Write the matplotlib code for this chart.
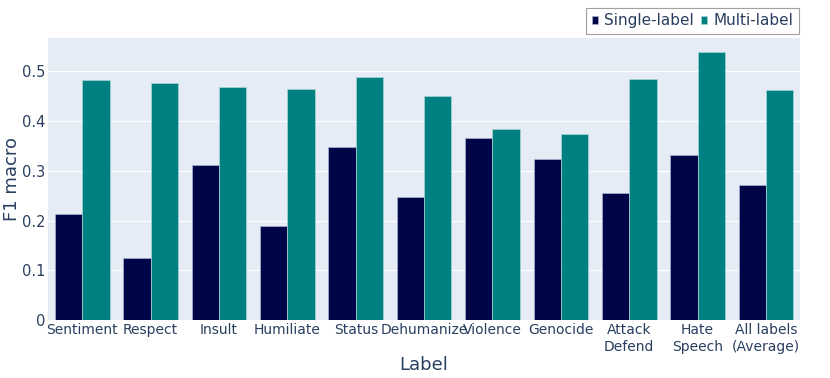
import numpy as np
import matplotlib.pyplot as plt
from matplotlib.ticker import FuncFormatter

labels = ["Sentiment", "Respect", "Insult", "Humiliate", "Status", "Dehumanize",
          "Violence", "Genocide", "Attack\nDefend", "Hate\nSpeech", "All labels\n(Average)"]
single_label = [0.213, 0.125, 0.312, 0.190, 0.349, 0.248, 0.366, 0.325, 0.255, 0.333, 0.272]
multi_label = [0.482, 0.477, 0.469, 0.465, 0.488, 0.451, 0.385, 0.375, 0.484, 0.539, 0.462]

text_color = "#2a3f5f"
plt.rcParams["font.family"] = ["DejaVu Sans"]

fig = plt.figure(figsize=(8.3, 3.78), dpi=100)
ax = fig.add_axes([0.058, 0.153, 0.906, 0.746])
ax.set_facecolor("#e5ecf6")

x = np.arange(len(labels))
w = 0.4
ax.bar(x - w / 2, single_label, w, color="#000548", edgecolor="#a9b4cf",
       linewidth=0.5, label="Single-label", zorder=3)
ax.bar(x + w / 2, multi_label, w, color="#008080", edgecolor="#a9d6d6",
       linewidth=0.5, label="Multi-label", zorder=3)

ax.set_xlim(-0.5, len(labels) - 0.5)
ax.set_ylim(0, 0.567)
ax.set_yticks([0, 0.1, 0.2, 0.3, 0.4, 0.5])
ax.yaxis.set_major_formatter(FuncFormatter(lambda v, p: "0" if v == 0 else f"{v:.1f}"))
ax.grid(axis="y", color="white", linewidth=0.8, zorder=0)
ax.set_axisbelow(True)
for s in ax.spines.values():
    s.set_visible(False)

ax.set_xticks(x)
ax.set_xticklabels(labels, fontsize=10, color=text_color, linespacing=1.3)
ax.tick_params(axis="both", length=0, labelsize=10.5, colors=text_color, pad=2)
ax.tick_params(axis="x", labelsize=10)
ax.set_xlabel("Label", fontsize=13, color=text_color, labelpad=1)
ax.set_ylabel("F1 macro", fontsize=13, color=text_color)
ax.yaxis.set_label_coords(-0.036, 0.5)

leg = ax.legend(loc="lower right", bbox_to_anchor=(1.0, 1.01), ncol=2, frameon=True,
                fontsize=11, handlelength=0.4, handleheight=0.4, handletextpad=0.4,
                columnspacing=0.5, borderpad=0.35, fancybox=False, borderaxespad=0.1)
leg.get_frame().set_edgecolor("#8a8a8a")
leg.get_frame().set_linewidth(0.8)
for t in leg.get_texts():
    t.set_color(text_color)

fig.savefig("out.png", dpi=100)
